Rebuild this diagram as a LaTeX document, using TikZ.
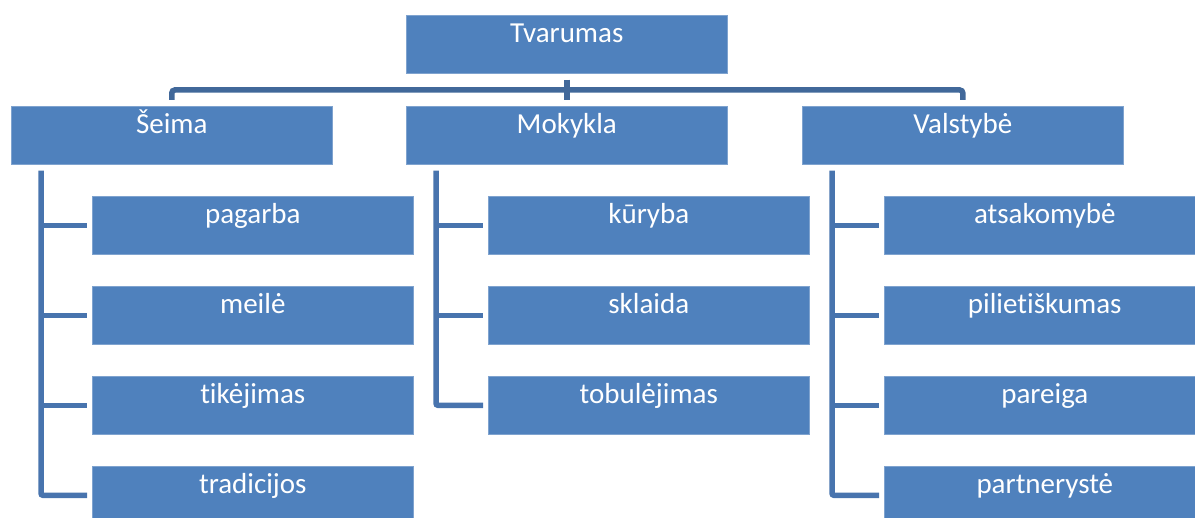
\documentclass[tikz,border=0pt]{standalone}
\usepackage{fontspec}
\setmainfont{Carlito}[Ligatures={NoCommon}]
\definecolor{boxfill}{HTML}{4F81BD}
\definecolor{boxedge}{HTML}{7FA3CF}
\definecolor{barcol}{HTML}{41689A}
\definecolor{colcol}{HTML}{4874AE}
\tikzset{
  box/.style={draw=boxedge, line width=0.6pt, fill=boxfill, anchor=north west,
    minimum width=321pt, inner xsep=0pt, inner ysep=0pt,
    text height=27pt, text depth=31pt, text=white,
    font=\fontsize{29}{30}\selectfont},
  topline/.style={draw=barcol, line width=5.5pt, rounded corners=3pt},
  colline/.style={draw=colcol, line width=5.5pt, rounded corners=2pt}
}
\begin{document}
\begin{tikzpicture}[x=1pt,y=-1pt]
\useasboundingbox (0,0) rectangle (1195,518);
\clip (0,0) rectangle (1195,518);
\coordinate (bar) at (0,90);
\node[box] (T) at (406,15) {Tvarumas};
\node[box] (S) at (11,106) {Šeima};
\node[box] (M) at (406,106) {Mokykla};
\node[box] (V) at (802,106) {Valstybė};
\node[box] (s1) at (92,196) {pagarba};
\node[box] (s2) at (92,286) {meilė};
\node[box] (s3) at (92,376) {tikėjimas};
\node[box] (s4) at (92,466) {tradicijos};
\node[box] (m1) at (488,196) {kūryba};
\node[box] (m2) at (488,286) {sklaida};
\node[box] (m3) at (488,376) {tobulėjimas};
\node[box] (v1) at (884,196) {atsakomybė};
\node[box] (v2) at (884,286) {pilietiškumas};
\node[box] (v3) at (884,376) {pareiga};
\node[box] (v4) at (884,466) {partnerystė};
% top connector
\draw[topline] ([yshift=6pt]S.north) -- (S.north |- bar) -- (V.north |- bar) -- ([yshift=6pt]V.north);
\draw[topline, rounded corners=0pt] ([yshift=-6pt]T.south) -- ([yshift=6pt]M.north);
% Šeima column
\draw[colline] ([xshift=30pt,yshift=-6pt]S.south west) |- ([xshift=-5pt]s4.west);
\foreach \c in {s1,s2,s3}
  \draw[colline] ([xshift=30pt]S.south west |- \c.west) -- ([xshift=-5pt]\c.west);
% Mokykla column
\draw[colline] ([xshift=30pt,yshift=-6pt]M.south west) |- ([xshift=-5pt]m3.west);
\foreach \c in {m1,m2}
  \draw[colline] ([xshift=30pt]M.south west |- \c.west) -- ([xshift=-5pt]\c.west);
% Valstybė column
\draw[colline] ([xshift=30pt,yshift=-6pt]V.south west) |- ([xshift=-5pt]v4.west);
\foreach \c in {v1,v2,v3}
  \draw[colline] ([xshift=30pt]V.south west |- \c.west) -- ([xshift=-5pt]\c.west);
\end{tikzpicture}
\end{document}
